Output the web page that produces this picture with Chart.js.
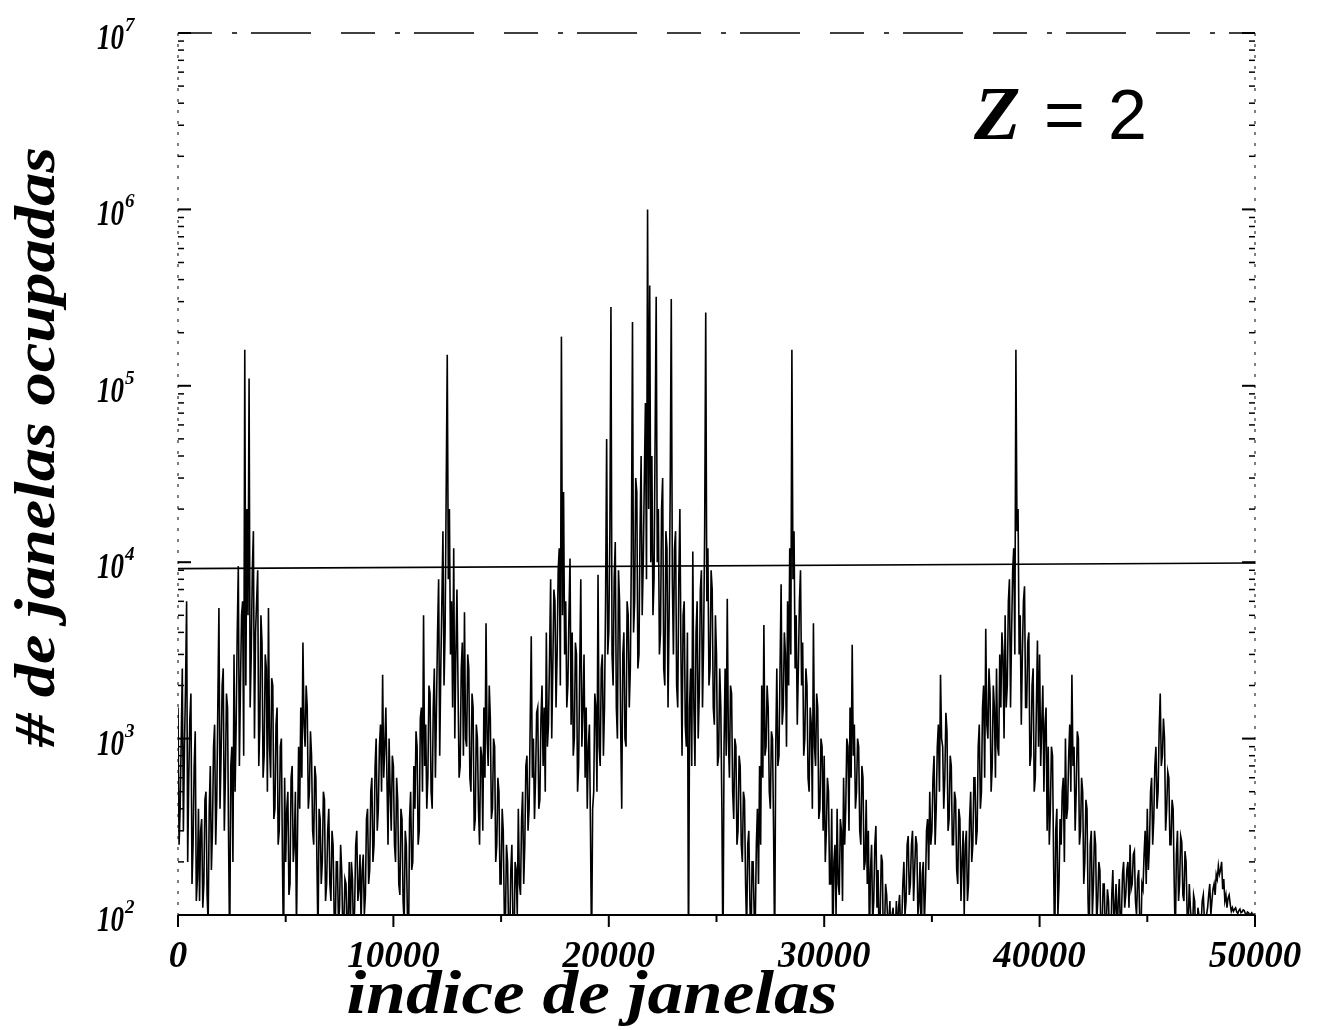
<!DOCTYPE html>
<html>
<head>
<meta charset="utf-8">
<title># de janelas ocupadas</title>
<script src="https://cdn.jsdelivr.net/npm/chart.js@4.4.1/dist/chart.umd.min.js"></script>
<style>
  html, body { margin: 0; padding: 0; background: #fff; }
  #wrap { width: 1320px; height: 1030px; }
</style>
</head>
<body>
<div id="wrap"><canvas id="chart" width="1320" height="1030"></canvas></div>
<script>
// Occupied windows per window index, Z = 2 (log scale)
const windowStep = 50; // one reading every 50 windows

const occupied0to9k = [
    1500, 250, 400, 1000, 2500, 300, 900, 2000, 6000, 200, 600, 1300, 1800, 150, 250, 700, 1100, 120, 160, 400,
    120, 300, 350, 110, 150, 450, 500, 130, 90, 400, 700, 180, 300, 900, 1200, 250, 450, 1600, 5500, 400,
    800, 2000, 2500, 300, 600, 1800, 1500, 250, 60, 700, 900, 200, 3000, 500, 1200, 4000, 9500, 700, 2000, 5000,
    6000, 800, 160000, 2000, 20000, 5000, 110000, 1500, 3000, 9000, 15000, 1000, 4000, 6000, 9000, 700, 1200, 5000, 3500, 600,
    800, 3000, 2500, 500, 5500, 900, 600, 2200, 2000, 350, 400, 1200, 1500, 250, 300, 900, 1000, 200, 60, 600,
    200, 400, 500, 130, 150, 600, 700, 200, 250, 500, 80, 300, 900, 400, 1500, 600, 3500, 1200, 900, 2000,
    1500, 400, 500, 1100, 800, 300, 250, 700, 600, 200, 70, 400, 350, 150, 200, 500, 450, 120, 150, 300,
    400, 150, 120, 300, 250, 100, 80, 200, 200, 90, 110, 250, 180, 80, 90, 160, 150, 70, 100, 200,
    80, 200, 160, 70, 110, 250, 300, 120, 140, 220, 90, 180, 220, 100, 130, 350, 400, 150, 180, 500,
    600, 200, 250, 700, 1000, 300, 400, 900, 1200, 500, 2300, 600, 900, 1500, 600, 250, 1000, 500, 300, 800
];
const occupied10kto19k = [
    700, 250, 200, 600, 450, 150, 130, 400, 350, 120, 90, 300, 250, 100, 60, 350, 500, 180, 200, 700,
    400, 1100, 900, 250, 300, 1300, 1500, 500, 5000, 700, 1200, 400, 600, 2000, 1800, 500, 400, 1500, 2500, 600,
    1500, 4000, 8000, 800, 2500, 6000, 15000, 2000, 4000, 25000, 150000, 8000, 20000, 3000, 6000, 1500, 12000, 1000, 3000, 7000,
    2000, 600, 700, 2500, 3500, 800, 5200, 1000, 900, 3000, 2500, 600, 500, 1800, 1500, 300, 350, 1200, 1000, 400,
    250, 900, 800, 300, 1500, 600, 4500, 1000, 700, 2000, 1300, 350, 400, 1000, 900, 200, 250, 600, 500, 150,
    150, 400, 300, 100, 90, 250, 200, 80, 70, 180, 250, 90, 60, 200, 180, 100, 400, 150, 130, 350,
    500, 150, 250, 700, 800, 300, 400, 1200, 3800, 600, 1000, 350, 600, 1400, 1500, 400, 450, 1300, 2000, 700,
    1500, 500, 4000, 900, 1200, 3000, 8000, 1000, 2500, 7000, 6000, 1500, 3000, 9000, 12000, 2000, 190000, 5000, 25000, 3000,
    6000, 1500, 2000, 5000, 10500, 1200, 4000, 800, 1000, 3500, 3000, 500, 700, 2500, 8000, 900, 1500, 3000, 600, 1500,
    400, 900, 1200, 300, 60, 400, 500, 1800, 1500, 500, 8500, 900, 700, 2500, 3000, 800, 1500, 6000, 50000, 3000
];
const occupied20kto29k = [
    4000, 15000, 280000, 3000, 2000, 8000, 13000, 1500, 1000, 9000, 6000, 1200, 400, 3000, 4000, 1000, 900, 6000, 5000, 1500,
    2500, 12000, 230000, 4000, 6000, 30000, 25000, 2500, 3000, 15000, 40000, 5000, 10000, 30000, 80000, 8000, 1000000, 20000, 370000, 10000,
    40000, 5000, 8000, 50000, 320000, 10000, 20000, 3000, 4000, 20000, 30000, 2500, 2000, 15000, 12000, 1500, 5000, 25000, 310000, 8000,
    3000, 12000, 15000, 2000, 1500, 8000, 20000, 3000, 800, 5000, 6000, 1200, 900, 4000, 50, 1500, 2500, 700, 11500, 1500,
    700, 4000, 6000, 1000, 1800, 7000, 9000, 1500, 3500, 15000, 260000, 6000, 12000, 2000, 2500, 9000, 7000, 1500, 1200, 5000,
    3000, 700, 800, 2500, 1500, 400, 50, 900, 2500, 800, 6200, 1000, 600, 2000, 1800, 500, 350, 1000, 900, 250,
    300, 800, 700, 250, 200, 500, 450, 150, 80, 250, 300, 120, 60, 200, 200, 100, 90, 250, 400, 150,
    700, 250, 2000, 600, 4400, 800, 900, 2000, 1500, 500, 400, 1100, 1000, 300, 60, 900, 2500, 700, 800, 2500,
    7500, 1200, 1500, 4000, 3000, 900, 6000, 2000, 12000, 3000, 160000, 8000, 15000, 2500, 5000, 1200, 2500, 6000, 9000, 2000,
    3500, 800, 1000, 2500, 2000, 600, 500, 1500, 1200, 400, 4500, 900, 700, 1800, 1500, 350, 400, 1000, 900, 300
];
const occupied30kto39k = [
    800, 200, 300, 600, 500, 150, 150, 400, 60, 200, 250, 100, 400, 150, 130, 350, 300, 120, 600, 250,
    400, 1000, 900, 300, 1500, 600, 3400, 800, 1200, 400, 500, 1000, 900, 300, 250, 700, 600, 180, 200, 450,
    150, 300, 70, 180, 250, 90, 120, 250, 320, 110, 180, 70, 100, 220, 200, 60, 80, 150, 130, 90,
    90, 120, 60, 100, 110, 70, 80, 120, 70, 110, 130, 80, 90, 150, 200, 100, 120, 250, 280, 130,
    150, 250, 300, 120, 180, 280, 250, 100, 120, 200, 60, 170, 200, 90, 140, 300, 350, 180, 500, 250,
    300, 600, 800, 250, 400, 900, 1200, 500, 2300, 1000, 900, 400, 600, 1400, 1100, 300, 350, 800, 700, 250,
    250, 500, 450, 180, 150, 400, 350, 120, 200, 300, 100, 250, 300, 120, 150, 350, 500, 200, 250, 600,
    600, 250, 300, 900, 1200, 400, 500, 1500, 2000, 600, 4200, 1200, 1000, 2500, 1800, 500, 700, 2000, 1500, 600,
    2500, 900, 800, 3000, 1500, 4000, 3000, 1000, 5000, 1500, 2000, 6000, 8000, 1500, 4000, 9000, 12000, 3000, 160000, 15000,
    20000, 3000, 5000, 1200, 3000, 6000, 7300, 1500, 1500, 3500, 4000, 700, 800, 2000, 2500, 500, 600, 1500, 3600, 900
];
const occupied40kto50k = [
    3000, 700, 1200, 2000, 500, 1200, 1500, 300, 900, 250, 400, 900, 800, 200, 60, 300, 400, 100, 150, 350,
    250, 500, 600, 200, 1000, 350, 400, 800, 1200, 500, 2300, 700, 900, 300, 500, 1100, 1000, 250, 300, 600,
    500, 150, 200, 450, 400, 120, 70, 250, 300, 100, 150, 300, 250, 90, 120, 200, 180, 70, 80, 150,
    150, 80, 90, 140, 120, 70, 60, 130, 180, 90, 110, 150, 70, 120, 160, 80, 100, 170, 200, 110,
    130, 180, 200, 110, 250, 140, 150, 220, 230, 120, 100, 160, 180, 90, 70, 150, 140, 220, 300, 150,
    400, 180, 250, 500, 600, 250, 350, 700, 900, 400, 500, 1100, 1800, 700, 800, 1300, 1000, 300, 400, 650,
    600, 250, 250, 450, 400, 150, 70, 220, 300, 120, 150, 280, 260, 130, 120, 230, 200, 100, 90, 150,
    110, 90, 80, 130, 120, 70, 60, 110, 100, 80, 90, 120, 130, 95, 70, 100, 110, 130, 150, 100,
    120, 140, 150, 130, 170, 160, 190, 170, 180, 200, 140, 160, 120, 130, 110, 125, 130, 115, 105, 110,
    105, 108, 110, 104, 102, 106, 108, 103, 104, 107, 106, 102, 100, 104, 103, 100, 101, 103, 100, 101,
    100
];

// the reference line drawn across at ~10^4 (slightly tilted on the scan)
const thresholdIndex = [0, 50000];
const thresholdValues = [9200, 9900];

const yDecades = [2, 3, 4, 5, 6, 7];
const xTickLabels = ['0', '10000', '20000', '30000', '40000', '50000'];

const occupied = [].concat(occupied0to9k, occupied10kto19k, occupied20kto29k,
                           occupied30kto39k, occupied40kto50k);
const seriesPoints = occupied.map((v, i) => ({ x: i * windowStep, y: v }));
const thresholdPoints = thresholdIndex.map((x, i) => ({ x: x, y: thresholdValues[i] }));

const SERIF = '"Liberation Serif", "DejaVu Serif", serif';
const SANS = '"Liberation Sans", Arial, sans-serif';

function seg(ctx, x1, y1, x2, y2) {
    ctx.beginPath();
    ctx.moveTo(x1, y1);
    ctx.lineTo(x2, y2);
    ctx.stroke();
}

// text squeezed or stretched horizontally to a given width
function fitText(ctx, text, x, y, width, align) {
    const w = ctx.measureText(text).width;
    const sx = width ? width / w : 1;
    ctx.save();
    ctx.translate(x, y);
    ctx.scale(sx, 1);
    ctx.textAlign = align || 'left';
    ctx.fillText(text, 0, 0);
    ctx.restore();
}

const framePlugin = {
    id: 'framePlugin',
    afterDatasetsDraw(chart) {
        const ctx = chart.ctx;
        const a = chart.chartArea;
        const xs = chart.scales.x;
        const ys = chart.scales.y;

        ctx.save();
        ctx.strokeStyle = '#000';
        ctx.fillStyle = '#000';

        // frame: bottom solid, the rest broken like the scan
        ctx.lineWidth = 2;
        seg(ctx, a.left, a.bottom, a.right, a.bottom);
        ctx.lineWidth = 1.5;
        ctx.setLineDash([34, 20, 5, 14, 60, 30]);
        seg(ctx, a.left, a.top, a.right, a.top);
        ctx.lineWidth = 1;
        ctx.setLineDash([3, 8]);
        seg(ctx, a.left, a.top, a.left, a.bottom);
        seg(ctx, a.right, a.top, a.right, a.bottom);
        ctx.setLineDash([]);

        // log ticks on both sides, pointing in
        yDecades.forEach((e, i) => {
            for (let m = 1; m <= 9; m++) {
                if (i === yDecades.length - 1 && m > 1) break;
                const py = ys.getPixelForValue(m * Math.pow(10, e));
                const len = m === 1 ? 13 : 6;
                ctx.lineWidth = m === 1 ? 2 : 1.5;
                seg(ctx, a.left, py, a.left + len, py);
                seg(ctx, a.right, py, a.right - len, py);
            }
        });

        // decade labels: condensed "10" plus small exponent
        yDecades.forEach(e => {
            const py = ys.getPixelForValue(Math.pow(10, e));
            ctx.font = 'italic bold 36px ' + SERIF;
            fitText(ctx, '10', 97, py + 16, 27);
            ctx.font = 'italic bold 19px ' + SERIF;
            fitText(ctx, String(e), 125, py - 2);
        });

        // x ticks every 5000, labels every 10000
        for (let v = 0; v <= 50000; v += 5000) {
            const px = xs.getPixelForValue(v);
            const major = v % 10000 === 0;
            ctx.lineWidth = 2;
            seg(ctx, px, a.bottom, px, a.bottom + (major ? 12 : 7));
        }
        ctx.font = 'italic bold 37px ' + SERIF;
        xTickLabels.forEach((lbl, i) => {
            const px = xs.getPixelForValue(i * 10000);
            fitText(ctx, lbl, px, 967, null, 'center');
        });

        // axis titles
        ctx.font = 'italic bold 58px ' + SERIF;
        ctx.save();
        ctx.translate(54, 447);
        ctx.rotate(-Math.PI / 2);
        fitText(ctx, '# de janelas ocupadas', 0, 0, 600, 'center');
        ctx.restore();
        ctx.font = 'italic bold 62px ' + SERIF;
        fitText(ctx, 'indice de janelas', 592, 1013, 491, 'center');

        // panel tag
        ctx.font = 'italic bold 76px ' + SERIF;
        fitText(ctx, 'Z', 974, 139);
        ctx.font = '70px ' + SANS;
        fitText(ctx, '=', 1044, 139);
        fitText(ctx, '2', 1108, 139);

        ctx.restore();
    }
};

new Chart(document.getElementById('chart'), {
    type: 'line',
    data: {
        datasets: [{
            label: 'janelas ocupadas',
            data: seriesPoints,
            borderColor: '#000',
            borderWidth: 1.6,
            pointRadius: 0,
            tension: 0,
            fill: false
        }, {
            label: '10^4',
            data: thresholdPoints,
            borderColor: '#000',
            borderWidth: 1.6,
            pointRadius: 0,
            fill: false
        }]
    },
    options: {
        responsive: false,
        animation: false,
        layout: { padding: { top: 33, right: 65, bottom: 0, left: 0 } },
        plugins: {
            legend: { display: false },
            tooltip: { enabled: false }
        },
        scales: {
            x: {
                type: 'linear',
                min: 0,
                max: 50000,
                grid: { display: false },
                border: { display: false },
                ticks: { display: false, stepSize: 10000 },
                afterFit: function(scale) { scale.height = 115; }
            },
            y: {
                type: 'logarithmic',
                min: 100,
                max: 10000000,
                grid: { display: false },
                border: { display: false },
                ticks: { display: false },
                afterFit: function(scale) { scale.width = 178; }
            }
        }
    },
    plugins: [framePlugin]
});
</script>
</body>
</html>
